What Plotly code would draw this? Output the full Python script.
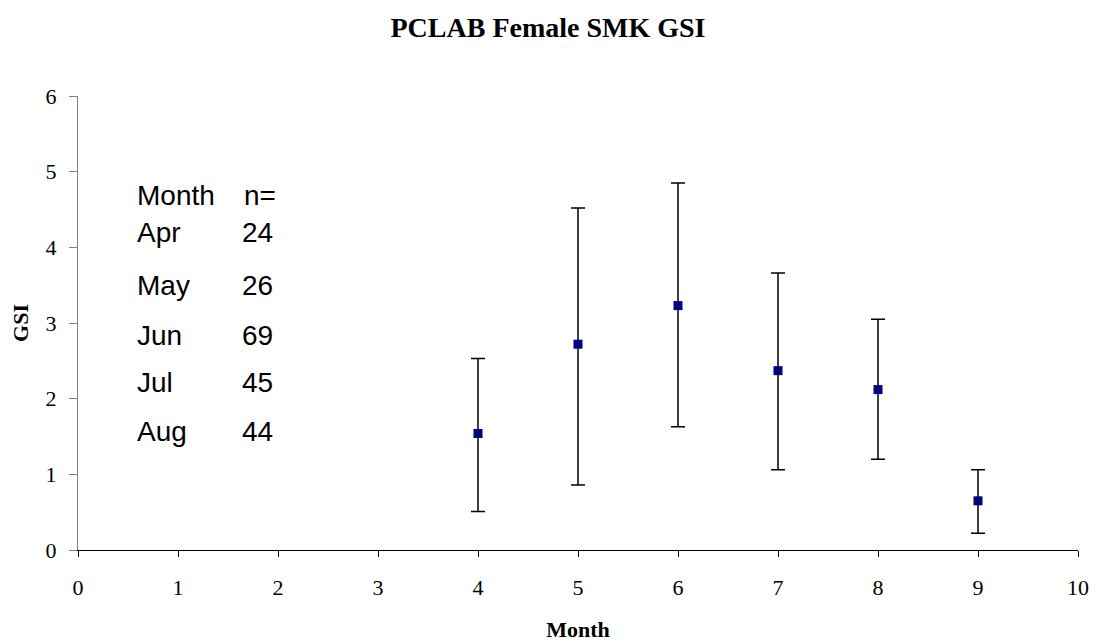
import plotly.graph_objects as go

# Data
months = [4, 5, 6, 7, 8, 9]
gsi_mean = [1.54, 2.72, 3.23, 2.37, 2.12, 0.65]
gsi_upper = [2.53, 4.52, 4.85, 3.66, 3.05, 1.06]
gsi_lower = [0.51, 0.86, 1.63, 1.06, 1.20, 0.22]

table_months = ["Apr", "May", "Jun", "Jul", "Aug"]
table_n = ["24", "26", "69", "45", "44"]

err_plus = [u - m for u, m in zip(gsi_upper, gsi_mean)]
err_minus = [m - l for m, l in zip(gsi_mean, gsi_lower)]

fig = go.Figure()
fig.add_trace(go.Scatter(
    x=months, y=gsi_mean, mode="markers",
    marker=dict(symbol="square", size=9, color="#000080"),
    error_y=dict(type="data", symmetric=False, array=err_plus, arrayminus=err_minus,
                 color="black", thickness=1.5, width=7),
    showlegend=False,
))

# Table text (month / n=)
table_y = [4.19, 3.50, 2.84, 2.21, 1.56]
tfont = dict(family="Liberation Sans, Arial", size=28, color="black")
ann = [
    dict(x=0.57, y=4.69, text="Month", xanchor="left", yanchor="middle", showarrow=False, font=tfont),
    dict(x=1.64, y=4.69, text="n=", xanchor="left", yanchor="middle", showarrow=False, font=tfont),
]
for m, n, yy in zip(table_months, table_n, table_y):
    ann.append(dict(x=0.57, y=yy, text=m, xanchor="left", yanchor="middle", showarrow=False, font=tfont))
    ann.append(dict(x=1.62, y=yy, text=n, xanchor="left", yanchor="middle", showarrow=False, font=tfont))

fig.update_layout(
    width=1096, height=644,
    margin=dict(l=78, r=18, t=96, b=94, autoexpand=False),
    paper_bgcolor="white", plot_bgcolor="white",
    title=dict(text="<b>PCLAB Female SMK GSI</b>", x=0.5, xanchor="center",
               y=1 - 27 / 644, yanchor="middle", yref="container",
               font=dict(family="Liberation Serif, Times New Roman", size=28, color="black")),
    font=dict(family="Liberation Serif, Times New Roman", size=22, color="black"),
    annotations=ann,
    xaxis=dict(range=[0, 10], dtick=1, tick0=0, showgrid=False, zeroline=False,
               showline=True, linecolor="black", linewidth=1, automargin=False,
               ticks="outside", ticklen=6, tickcolor="black",
               ticklabelstandoff=12,
               tickfont=dict(size=22),
               title=dict(text="<b>Month</b>", font=dict(size=22), standoff=22)),
    yaxis=dict(range=[0, 6], dtick=1, tick0=0, showgrid=False, zeroline=False,
               showline=True, linecolor="#808080", linewidth=1, automargin=False,
               ticks="outside", ticklen=8, tickcolor="#808080",
               ticklabelstandoff=8,
               tickfont=dict(size=22),
               title=dict(text="<b>GSI</b>", font=dict(size=22), standoff=10)),
)

fig.write_html("out.html")
